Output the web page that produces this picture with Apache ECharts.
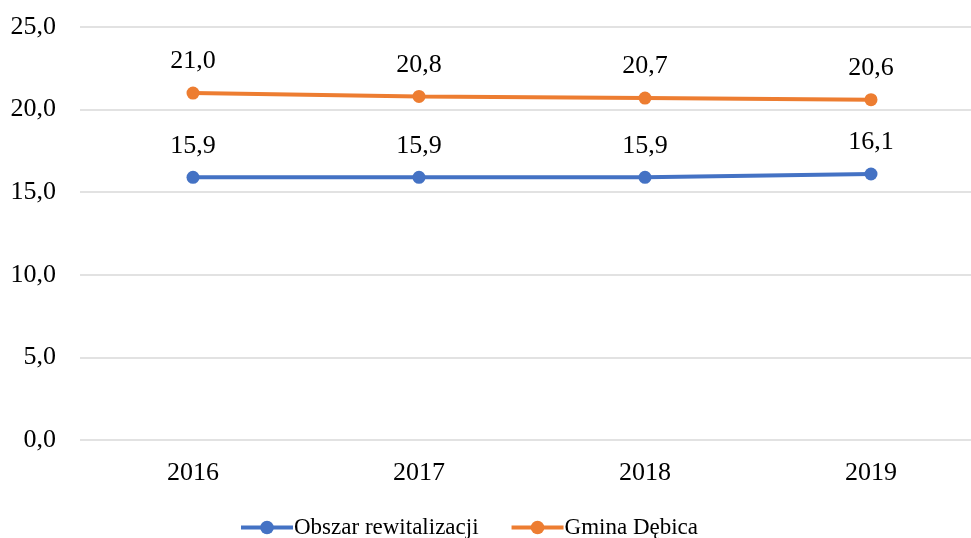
<!DOCTYPE html>
<html>
<head>
<meta charset="utf-8">
<script src="https://cdn.jsdelivr.net/npm/echarts@6/dist/echarts.min.js"></script>
<style>
  html, body { margin: 0; padding: 0; background: #fff; }
  #chart { width: 971px; height: 538px; }
</style>
</head>
<body>
<div id="chart"></div>
<script>
const years = ['2016', '2017', '2018', '2019'];
const obszar = [15.9, 15.9, 15.9, 16.1];
const gmina = [21.0, 20.8, 20.7, 20.6];
const seriesNames = ['Obszar rewitalizacji', 'Gmina Dębica'];

const fontFamily = '"Liberation Serif", "Times New Roman", serif';
const fontSize = 26;
const fmt = v => v.toFixed(1).replace('.', ',');

const lineSeries = (name, data, color) => ({
  name,
  type: 'line',
  data,
  symbol: 'circle',
  symbolSize: 13,
  lineStyle: { width: 4, color },
  itemStyle: { color },
  label: {
    show: true,
    position: 'top',
    distance: 12,
    fontFamily,
    fontSize,
    color: '#000',
    formatter: p => fmt(p.value),
  },
});

const chart = echarts.init(document.getElementById('chart'));
chart.setOption({
  animation: false,
  grid: {
    left: 80,
    width: 904,
    top: 27,
    bottom: 98,
    containLabel: false,
    outerBoundsMode: 'none',
  },
  legend: {
    left: 234,
    top: 511,
    itemWidth: 52,
    itemHeight: 17,
    itemGap: 31,
    lineStyle: { width: 4 },
    textStyle: { fontFamily, fontSize: 23, color: '#000', padding: [2, 0, 0, -4] },
    data: seriesNames.map(name => ({ name, lineStyle: { width: 4 } })),
  },
  xAxis: {
    type: 'category',
    data: years,
    axisLine: { show: false },
    axisTick: { show: false },
    axisLabel: { fontFamily, fontSize, color: '#000', margin: 20 },
  },
  yAxis: {
    type: 'value',
    min: 0,
    max: 25,
    interval: 5,
    axisLine: { show: false },
    axisTick: { show: false },
    splitLine: { lineStyle: { color: '#d9d9d9', width: 1.5 } },
    axisLabel: {
      fontFamily,
      fontSize,
      color: '#000',
      margin: 24,
      formatter: v => fmt(v),
    },
  },
  series: [
    lineSeries(seriesNames[0], obszar, '#4472c4'),
    lineSeries(seriesNames[1], gmina, '#ed7d31'),
  ],
});
</script>
</body>
</html>
